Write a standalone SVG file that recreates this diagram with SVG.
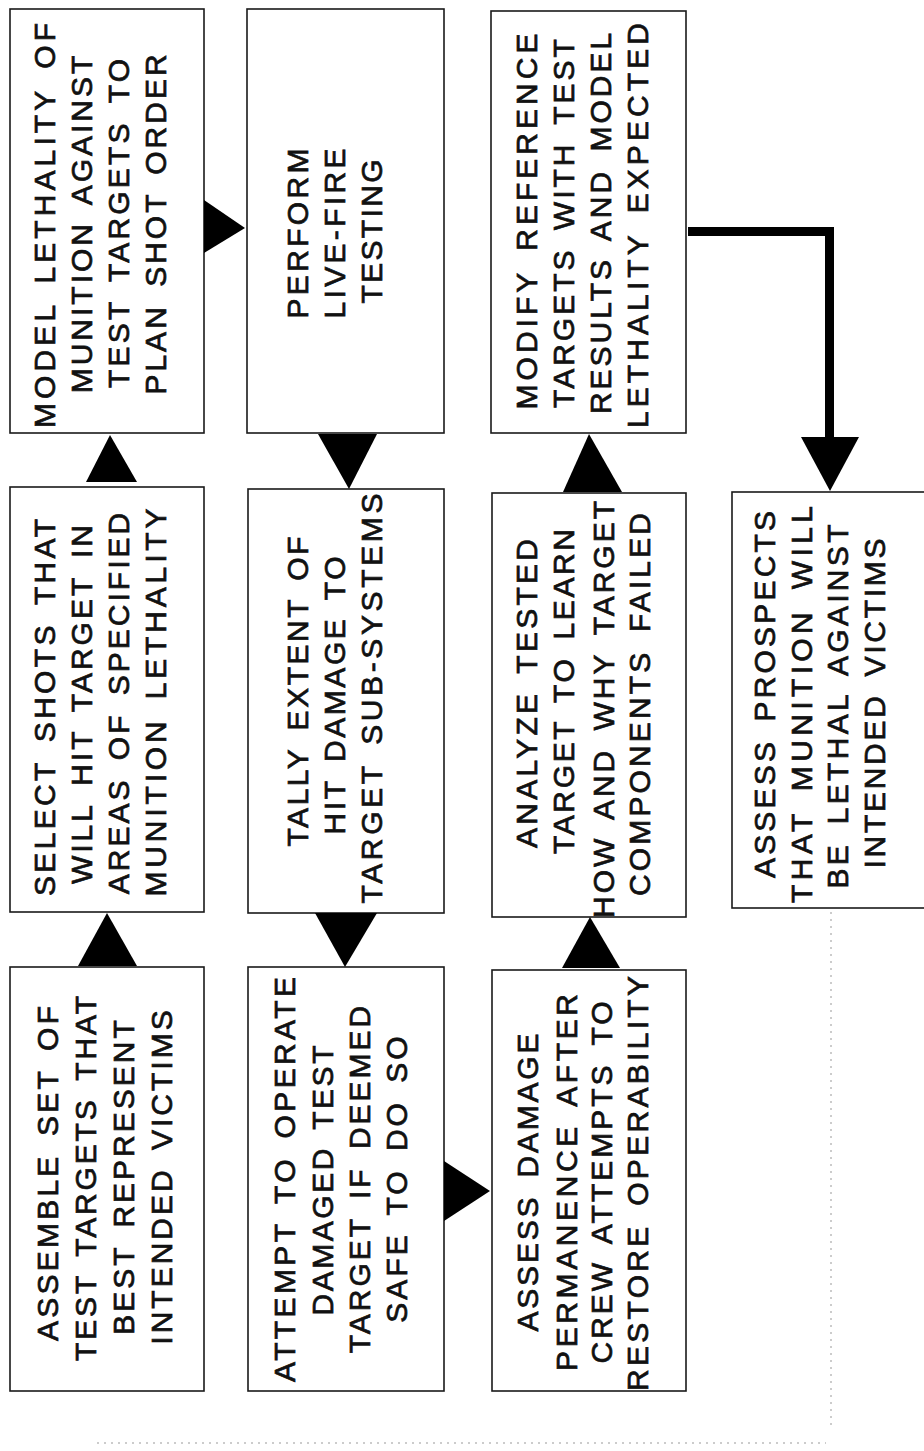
<svg xmlns="http://www.w3.org/2000/svg" width="924" height="1451" viewBox="0 0 924 1451">
<style>
.box{fill:#fff;stroke:#1a1a1a;stroke-width:1.6}
.t{font-family:"Liberation Sans",Arial,Helvetica,sans-serif;font-size:30px;letter-spacing:3px;word-spacing:6px;text-anchor:middle;fill:#111;stroke:#111;stroke-width:0.7px}
.head{fill:#000;stroke:none}
.thick{fill:none;stroke:#000;stroke-width:9;stroke-linejoin:miter}
.guide{fill:none;stroke:#999;stroke-width:1;stroke-dasharray:2 5}
</style>
<rect width="924" height="1451" fill="#fff"/>
<g id="guides">
<line class="guide" x1="831" y1="912" x2="831" y2="1426"/>
<line class="guide" x1="97" y1="1443" x2="826" y2="1443"/>
</g>
<g id="n-model">
<rect class="box" x="10" y="9" width="194" height="424"/>
<text class="t" transform="translate(55,224) rotate(-90)" textLength="408" lengthAdjust="spacing">MODEL LETHALITY OF</text>
<text class="t" transform="translate(92,223) rotate(-90)">MUNITION AGAINST</text>
<text class="t" transform="translate(129,222) rotate(-90)" textLength="332" lengthAdjust="spacing">TEST TARGETS TO</text>
<text class="t" transform="translate(166,223) rotate(-90)">PLAN SHOT ORDER</text>
</g>
<g id="n-select">
<rect class="box" x="10" y="487" width="194" height="425"/>
<text class="t" transform="translate(55,706) rotate(-90)" textLength="380" lengthAdjust="spacing">SELECT SHOTS THAT</text>
<text class="t" transform="translate(92,703) rotate(-90)">WILL HIT TARGET IN</text>
<text class="t" transform="translate(129,702) rotate(-90)">AREAS OF SPECIFIED</text>
<text class="t" transform="translate(166,701) rotate(-90)" textLength="391" lengthAdjust="spacing">MUNITION LETHALITY</text>
</g>
<g id="n-assemble">
<rect class="box" x="10" y="967" width="194" height="424"/>
<text class="t" transform="translate(58,1172) rotate(-90)" textLength="338" lengthAdjust="spacing">ASSEMBLE SET OF</text>
<text class="t" transform="translate(96,1177) rotate(-90)" textLength="368" lengthAdjust="spacing">TEST TARGETS THAT</text>
<text class="t" transform="translate(134,1176) rotate(-90)">BEST REPRESENT</text>
<text class="t" transform="translate(172,1176) rotate(-90)">INTENDED VICTIMS</text>
</g>
<g id="n-perform">
<rect class="box" x="247" y="9" width="197" height="424"/>
<text class="t" transform="translate(308,232) rotate(-90)" textLength="173" lengthAdjust="spacing">PERFORM</text>
<text class="t" transform="translate(345,232) rotate(-90)" textLength="173" lengthAdjust="spacing">LIVE-FIRE</text>
<text class="t" transform="translate(382,230) rotate(-90)" textLength="147" lengthAdjust="spacing">TESTING</text>
</g>
<g id="n-tally">
<rect class="box" x="248" y="489" width="196" height="424"/>
<text class="t" transform="translate(308,690) rotate(-90)" textLength="313" lengthAdjust="spacing">TALLY EXTENT OF</text>
<text class="t" transform="translate(345,694) rotate(-90)" textLength="281" lengthAdjust="spacing">HIT DAMAGE TO</text>
<text class="t" transform="translate(382,697) rotate(-90)" textLength="413" lengthAdjust="spacing">TARGET SUB-SYSTEMS</text>
</g>
<g id="n-attempt">
<rect class="box" x="248" y="967" width="196" height="424"/>
<text class="t" transform="translate(295,1178) rotate(-90)" textLength="408" lengthAdjust="spacing">ATTEMPT TO OPERATE</text>
<text class="t" transform="translate(333,1179) rotate(-90)" textLength="273" lengthAdjust="spacing">DAMAGED TEST</text>
<text class="t" transform="translate(370,1178) rotate(-90)">TARGET IF DEEMED</text>
<text class="t" transform="translate(407,1178) rotate(-90)">SAFE TO DO SO</text>
</g>
<g id="n-modify">
<rect class="box" x="491" y="11" width="195" height="422"/>
<text class="t" transform="translate(537,220) rotate(-90)" textLength="379" lengthAdjust="spacing">MODIFY REFERENCE</text>
<text class="t" transform="translate(574,222) rotate(-90)">TARGETS WITH TEST</text>
<text class="t" transform="translate(611,222) rotate(-90)">RESULTS AND MODEL</text>
<text class="t" transform="translate(648,224) rotate(-90)" textLength="408" lengthAdjust="spacing">LETHALITY EXPECTED</text>
</g>
<g id="n-analyze">
<rect class="box" x="492" y="493" width="194" height="424"/>
<text class="t" transform="translate(537,692) rotate(-90)" textLength="312" lengthAdjust="spacing">ANALYZE TESTED</text>
<text class="t" transform="translate(574,690) rotate(-90)" textLength="328" lengthAdjust="spacing">TARGET TO LEARN</text>
<text class="t" transform="translate(614,708) rotate(-90)" textLength="420" lengthAdjust="spacing">HOW AND WHY TARGET</text>
<text class="t" transform="translate(650,703) rotate(-90)" textLength="386" lengthAdjust="spacing">COMPONENTS FAILED</text>
</g>
<g id="n-assess-damage">
<rect class="box" x="492" y="970" width="194" height="421"/>
<text class="t" transform="translate(538,1181) rotate(-90)" textLength="301" lengthAdjust="spacing">ASSESS DAMAGE</text>
<text class="t" transform="translate(577,1181) rotate(-90)" textLength="380" lengthAdjust="spacing">PERMANENCE AFTER</text>
<text class="t" transform="translate(612,1181) rotate(-90)">CREW ATTEMPTS TO</text>
<text class="t" transform="translate(648,1182) rotate(-90)" textLength="418" lengthAdjust="spacing">RESTORE OPERABILITY</text>
</g>
<g id="n-assess-prospects">
<rect class="box" x="732" y="492" width="210" height="416"/>
<text class="t" transform="translate(775,693) rotate(-90)" textLength="370" lengthAdjust="spacing">ASSESS PROSPECTS</text>
<text class="t" transform="translate(812,703) rotate(-90)" textLength="400" lengthAdjust="spacing">THAT MUNITION WILL</text>
<text class="t" transform="translate(848,705) rotate(-90)" textLength="367" lengthAdjust="spacing">BE LETHAL AGAINST</text>
<text class="t" transform="translate(885,702) rotate(-90)" textLength="333" lengthAdjust="spacing">INTENDED VICTIMS</text>
</g>
<g id="connectors">
<polygon class="head" points="204,200 204,253 245,228"/>
<polygon class="head" points="86,482 137,482 110,435"/>
<polygon class="head" points="78,966 137,966 107,913"/>
<polygon class="head" points="318,434 377,434 349,489"/>
<polygon class="head" points="315,913 377,913 345,967"/>
<polygon class="head" points="444,1161 444,1221 490,1191"/>
<polygon class="head" points="562,968 620,968 590,917"/>
<polygon class="head" points="563,492 622,492 589,434"/>
<polyline class="thick" points="688,231.5 829.5,231.5 829.5,438"/>
<polygon class="head" points="801,437 859,437 830,491"/>
</g>
</svg>
